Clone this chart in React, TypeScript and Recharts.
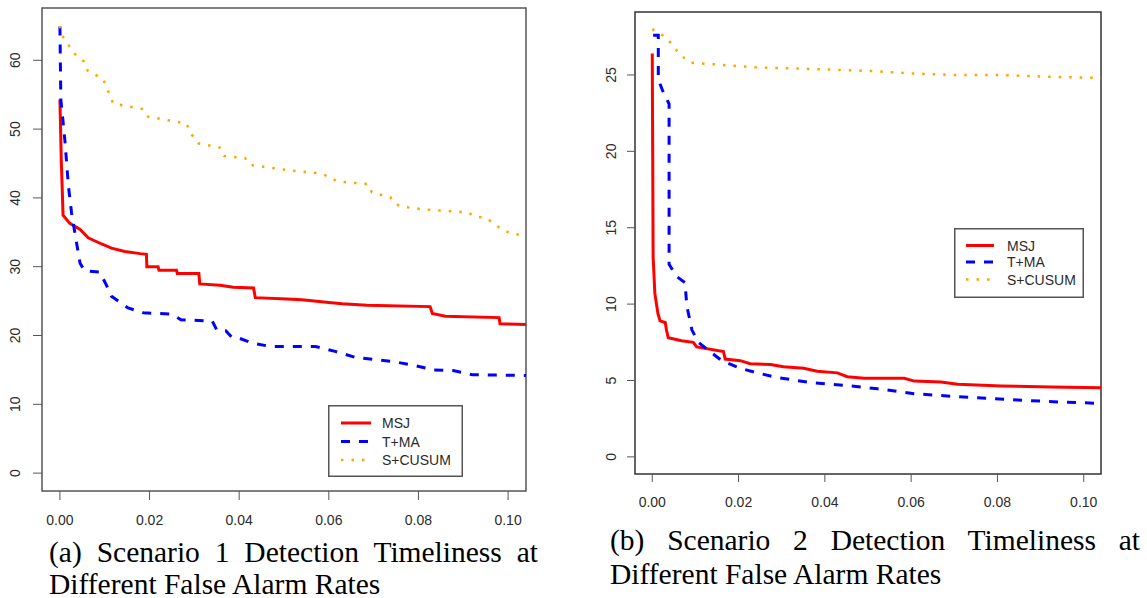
import { LineChart, Line, XAxis, YAxis, Legend, ReferenceArea } from 'recharts';

// x = false alarm rate, y = detection delay
const MSJ_A = [
    [0, 54.3], [0.0003, 45.5], [0.0006, 39.5], [0.0007, 37.5], [0.0022, 36.3], [0.0045, 35.4],
    [0.0063, 34.2], [0.0093, 33.3], [0.0115, 32.7], [0.0145, 32.2], [0.0179, 31.9], [0.0193, 31.8],
    [0.0194, 30.0], [0.0219, 30.0], [0.0221, 29.5], [0.026, 29.5], [0.0262, 29.0], [0.031, 29.0],
    [0.0312, 27.5], [0.0357, 27.3], [0.0387, 27.0], [0.0432, 26.9], [0.0436, 25.5], [0.0506, 25.3],
    [0.054, 25.2], [0.06, 24.8], [0.063, 24.6], [0.0685, 24.4], [0.0826, 24.2], [0.0831, 23.2],
    [0.086, 22.8], [0.098, 22.6], [0.0982, 21.7], [0.104, 21.6],
];
const TMA_A = [
    [0, 64.9], [0.0002, 54.3], [0.0011, 48.4], [0.0019, 41.7], [0.0026, 37.8], [0.0037, 33.5],
    [0.0045, 30.5], [0.0055, 29.4], [0.0089, 29.2], [0.0104, 27.3], [0.0115, 25.7], [0.0152, 24.0],
    [0.0186, 23.3], [0.025, 23.1], [0.027, 22.3], [0.034, 22.1], [0.035, 20.8], [0.037, 20.7],
    [0.0384, 19.7], [0.04, 19.6], [0.043, 18.9], [0.047, 18.4], [0.057, 18.4], [0.0614, 17.7],
    [0.066, 16.8], [0.0744, 16.2], [0.0788, 15.7], [0.0833, 15.0], [0.0877, 14.9], [0.092, 14.3],
    [0.104, 14.2],
];
const SCUSUM_A = [
    [0, 65.0], [0.0004, 63.7], [0.0015, 62.6], [0.0037, 60.6], [0.0054, 59.8], [0.0062, 58.5],
    [0.0096, 57.3], [0.0104, 56.1], [0.0119, 53.7], [0.0186, 52.9], [0.0197, 51.8], [0.0283, 50.8],
    [0.029, 49.5], [0.031, 47.9], [0.0357, 47.3], [0.0366, 46.1], [0.0413, 45.8], [0.0424, 44.8],
    [0.0469, 44.4], [0.0513, 44.0], [0.0562, 43.7], [0.0584, 43.5], [0.0603, 43.0], [0.0618, 42.4],
    [0.0688, 42.0], [0.0696, 40.8], [0.0737, 40.1], [0.0748, 39.1], [0.0766, 38.7], [0.0815, 38.3],
    [0.091, 37.9], [0.0926, 37.3], [0.095, 37.1], [0.0966, 36.4], [0.098, 35.7], [0.0996, 35.1],
    [0.1017, 34.7], [0.104, 34.6],
];

const MSJ_B = [
    [0, 26.4], [0.0001, 20.0], [0.0002, 13.1], [0.0006, 10.7], [0.0013, 9.4], [0.0018, 8.9],
    [0.003, 8.8], [0.0033, 8.3], [0.0037, 7.8], [0.0068, 7.6], [0.0095, 7.5], [0.0103, 7.2],
    [0.0165, 6.9], [0.0169, 6.4], [0.0204, 6.3], [0.0227, 6.1], [0.0274, 6.05], [0.0304, 5.9],
    [0.0351, 5.8], [0.0382, 5.6], [0.0429, 5.5], [0.0452, 5.25], [0.0491, 5.15], [0.0584, 5.15],
    [0.0607, 4.96], [0.0669, 4.9], [0.0708, 4.75], [0.0809, 4.64], [0.0925, 4.57], [0.104, 4.53],
];
const TMA_B = [
    [0.0002, 27.6], [0.0014, 27.6], [0.0014, 24.7], [0.0025, 23.9], [0.0039, 23.1], [0.0039, 12.6],
    [0.0057, 11.8], [0.0076, 11.4], [0.008, 9.9], [0.0092, 8.3], [0.0107, 7.5], [0.0138, 6.8],
    [0.0161, 6.3], [0.0204, 5.8], [0.0243, 5.5], [0.0289, 5.2], [0.0367, 4.86], [0.0467, 4.63],
    [0.0522, 4.46], [0.0607, 4.14], [0.0708, 3.94], [0.0754, 3.87], [0.0847, 3.72], [0.0948, 3.59],
    [0.104, 3.5],
];
const SCUSUM_B = [
    [0, 28.0], [0.0018, 27.7], [0.0035, 27.4], [0.0047, 26.9], [0.006, 26.5], [0.0074, 26.1],
    [0.009, 25.8], [0.0142, 25.7], [0.0235, 25.5], [0.0359, 25.4], [0.0506, 25.26], [0.06, 25.1],
    [0.07, 25.0], [0.08, 25.0], [0.09, 24.9], [0.104, 24.8],
];

const X_TICKS = [0, 0.02, 0.04, 0.06, 0.08, 0.1];
const Y_TICKS_A = [0, 10, 20, 30, 40, 50, 60];
const Y_TICKS_B = [0, 5, 10, 15, 20, 25];
const SERIES_NAMES = ['MSJ', 'T+MA', 'S+CUSUM'];

const CAPTION_A = '(a) Scenario 1 Detection Timeliness at Different False Alarm Rates';
const CAPTION_B = '(b) Scenario 2 Detection Timeliness at Different False Alarm Rates';

const SANS = '"Liberation Sans", Arial, Helvetica, sans-serif';
const SERIF = '"Liberation Serif", "Times New Roman", Times, serif';
const TEXT = '#2b2b2b';

const STYLES = [
    { color: '#ff0000', dash: undefined, width: 3 },
    { color: '#0000ff', dash: '9 9', width: 3 },
    { color: '#ffa500', dash: '2.5 8', width: 2.5 },
];

const toPoints = (arr: number[][]) => arr.map(([x, y]) => ({ x, y }));

const YTick = (props: any) => {
    const { x, y, payload } = props;
    return (
        <text x={x} y={y} transform={`rotate(-90, ${x}, ${y})`} textAnchor="middle"
            fontSize={14} fill={TEXT} fontFamily={SANS}>
            {payload.value}
        </text>
    );
};

function LegendBox({ w, h, lineX, lineW, textX, rows }: any) {
    return (
        <svg width={w} height={h} style={{ display: 'block' }}>
            <rect x={0.75} y={0.75} width={w - 1.5} height={h - 1.5} fill="#fff" stroke="#555" strokeWidth={1.5} />
            {SERIES_NAMES.map((name, i) => (
                <g key={name}>
                    <line x1={lineX} x2={lineX + lineW} y1={rows[i]} y2={rows[i]}
                        stroke={STYLES[i].color} strokeWidth={STYLES[i].width}
                        strokeDasharray={STYLES[i].dash} />
                    <text x={textX} y={rows[i] + 5} fontSize={14} fill={TEXT} fontFamily={SANS}>{name}</text>
                </g>
            ))}
        </svg>
    );
}

function Panel({ left, series, yTicks, yDomain, margin, yWidth, tickSize, xMargin, yMargin, frame, legendPos, legendProps }: any) {
    return (
        <div style={{ position: 'absolute', left, top: 0 }}>
            <LineChart width={540} height={540} margin={margin}>
                <XAxis type="number" dataKey="x" domain={[-0.004, 0.104]} ticks={X_TICKS}
                    tickFormatter={(v: number) => v.toFixed(2)} axisLine={false} height={40}
                    tickSize={tickSize} tickMargin={xMargin} tickLine={{ stroke: '#555' }}
                    tick={{ fontSize: 14, fill: TEXT, fontFamily: SANS }} interval={0} />
                <YAxis type="number" domain={yDomain} ticks={yTicks} axisLine={false} width={yWidth}
                    tickSize={tickSize} tickMargin={yMargin} tickLine={{ stroke: '#555' }}
                    tick={<YTick />} interval={0} />
                <ReferenceArea x1={-0.004} x2={0.104} y1={yDomain[0]} y2={yDomain[1]}
                    fill="none" fillOpacity={0} stroke={frame} strokeWidth={1.5} ifOverflow="visible" />
                {series.map((data: number[][], i: number) => (
                    <Line key={SERIES_NAMES[i]} name={SERIES_NAMES[i]} data={toPoints(data)} dataKey="y"
                        type="linear" stroke={STYLES[i].color} strokeWidth={STYLES[i].width}
                        strokeDasharray={STYLES[i].dash} dot={false} activeDot={false}
                        isAnimationActive={false} />
                ))}
                <Legend layout="vertical" align="center" verticalAlign="middle"
                    wrapperStyle={{ ...legendPos }}
                    content={() => <LegendBox {...legendProps} />} />
            </LineChart>
        </div>
    );
}

export default function App() {
    const caption = (text: string, left: number, top: number, width: number, lh: number) => (
        <div style={{
            position: 'absolute', left, top, width, fontFamily: SERIF, fontSize: 29.5, lineHeight: `${lh}px`,
            color: '#000', textAlign: 'justify', textAlignLast: 'left',
        }}>{text}</div>
    );

    return (
        <div style={{ position: 'absolute', left: 0, top: 0, width: 1147, height: 598, background: '#fff', overflow: 'hidden' }}>
            <Panel left={0} series={[MSJ_A, TMA_A, SCUSUM_A]} yTicks={Y_TICKS_A} yDomain={[-2.6, 67.6]}
                margin={{ top: 8, right: 14, bottom: 9, left: 0 }} yWidth={42} tickSize={9}
                xMargin={15} yMargin={13} frame="#555"
                legendPos={{ left: 328, top: 405, width: 135, height: 72 }}
                legendProps={{ w: 135, h: 72, lineX: 13, lineW: 30, textX: 54, rows: [18, 36.5, 55] }} />
            <Panel left={580} series={[MSJ_B, TMA_B, SCUSUM_B]} yTicks={Y_TICKS_B} yDomain={[-1.12, 29.12]}
                margin={{ top: 12, right: 19, bottom: 26, left: 0 }} yWidth={55} tickSize={8}
                xMargin={15} yMargin={11} frame="#333"
                legendPos={{ left: 374, top: 228, width: 130, height: 70 }}
                legendProps={{ w: 130, h: 70, lineX: 12, lineW: 28, textX: 53, rows: [17.5, 34, 51.5] }} />
            {caption(CAPTION_A, 49, 536, 489, 32)}
            {caption(CAPTION_B, 610, 523, 530, 34)}
        </div>
    );
}
